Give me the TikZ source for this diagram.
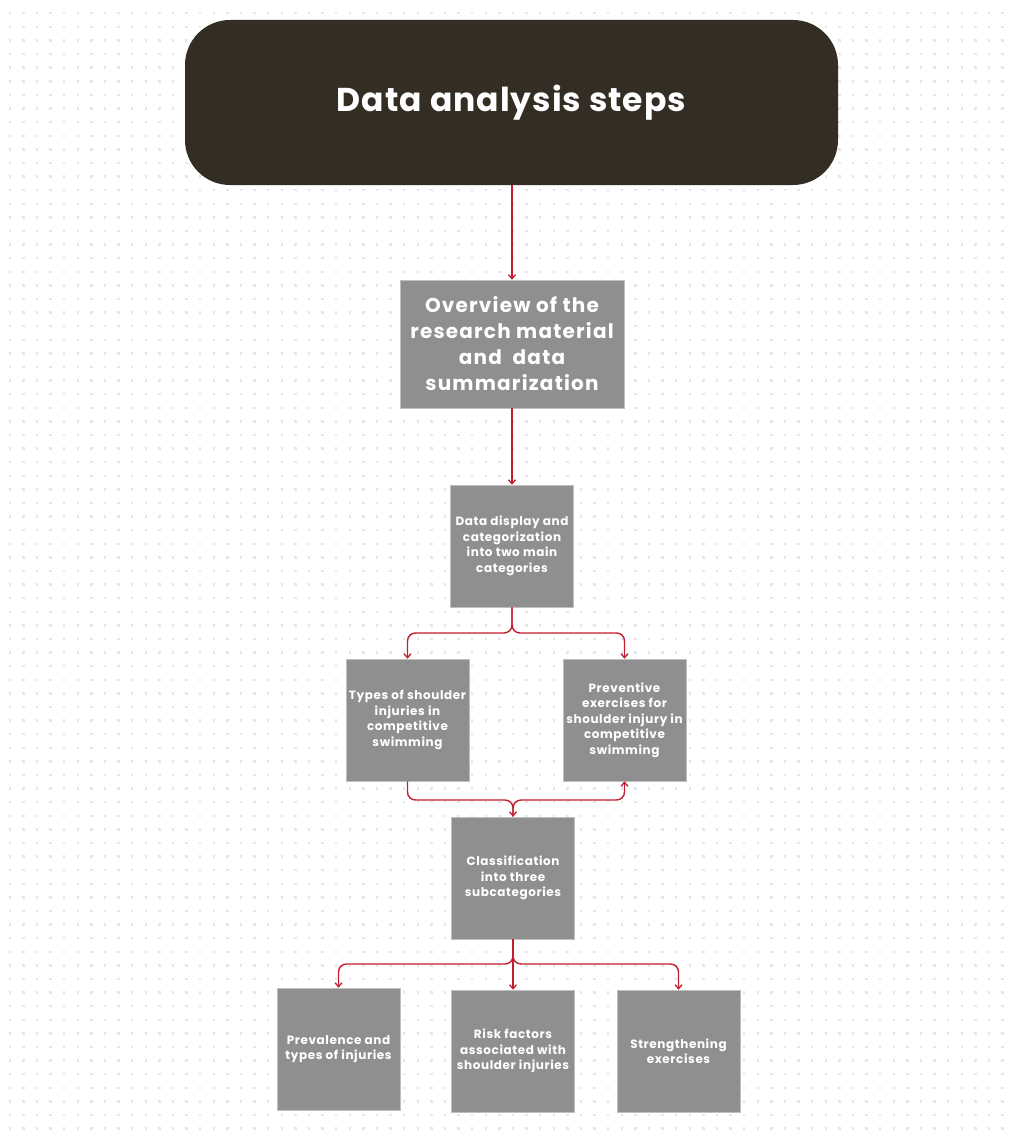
\documentclass[tikz,border=0pt]{standalone}
\usepackage{fontspec}
\setmainfont{Poppins}
\usetikzlibrary{arrows.meta}
\definecolor{titlebg}{HTML}{332D23}
\definecolor{boxgray}{HTML}{8F8F8F}
\definecolor{linered}{HTML}{C41E2E}
\definecolor{dotgray}{HTML}{E6E6E6}
\begin{document}
\begin{tikzpicture}[x=1pt,y=-1pt,
  box/.style={rectangle, fill=boxgray, draw=black!25, line width=0.6pt, minimum width=123pt, minimum height=122pt, align=center, text=white, font=\bfseries\fontsize{12}{15.5}\selectfont\addfontfeatures{LetterSpace=5}, inner sep=0pt},
  conn/.style={draw=linered, line width=1.4pt, rounded corners=8pt},
  arr/.style={conn, -{Straight Barb[length=4pt,width=7pt,line width=1.3pt]}}
]
\useasboundingbox (0,0) rectangle (1013,1140);
\fill[white] (0,0) rectangle (1013,1140);
% dot grid
\foreach \i in {0,...,73}{
  \foreach \j in {0,...,82}{
    \fill[dotgray] ({9.7+13.6*\i-1.2},{13.3+13.6*\j-1.2}) rectangle ++(2.4,2.4);
  }
}
% title
\node[rectangle, rounded corners=45pt, fill=titlebg, minimum width=653pt, minimum height=165pt, text=white, font=\bfseries\fontsize{33}{38}\selectfont\addfontfeatures{LetterSpace=3}] (title) at (511.5,102.5) {Data analysis steps};
% boxes
\node[box, minimum width=224pt, minimum height=128pt, font=\bfseries\fontsize{20}{26}\selectfont\addfontfeatures{LetterSpace=6}] (b1) at (512,344) {Overview of the\\research material\\and\ \ data\\summarization};
\node[box] (b2) at (512,546) {Data display and\\categorization\\into two main\\categories};
\node[box] (b3l) at (407.5,720) {Types of shoulder\\injuries in\\competitive\\swimming};
\node[box] (b3r) at (624.5,720) {Preventive\\exercises for\\shoulder injury in\\competitive\\swimming};
\node[box] (b4) at (513,878) {Classification\\into three\\subcategories};
\node[box] (b5l) at (338.5,1049) {Prevalence and\\types of injuries};
\node[box] (b5m) at (513,1051) {Risk factors\\associated with\\shoulder injuries};
\node[box] (b5r) at (678.5,1051) {Strengthening\\exercises};
% junctions
\coordinate (j1) at (512,633);
\coordinate (j2) at (513,800);
\coordinate (j3) at (513,964);
% connectors
\draw[arr] (title.south -| b1.north) -- (b1.north);
\draw[arr] (b1.south) -- (b2.north);
\draw[arr] (b2.south) -- (j1) -| (b3l.north);
\draw[arr] (b2.south) -- (j1) -| (b3r.north);
\draw[arr] (b3l.south) |- (j2) -- (b4.north);
\draw[arr] (b4.north) -- (j2) -| (b3r.south);
\draw[arr] (b4.south) -- (b5m.north);
\draw[arr] (b4.south) -- (j3) -| (b5l.north);
\draw[arr] (b4.south) -- (j3) -| (b5r.north);
\end{tikzpicture}
\end{document}
